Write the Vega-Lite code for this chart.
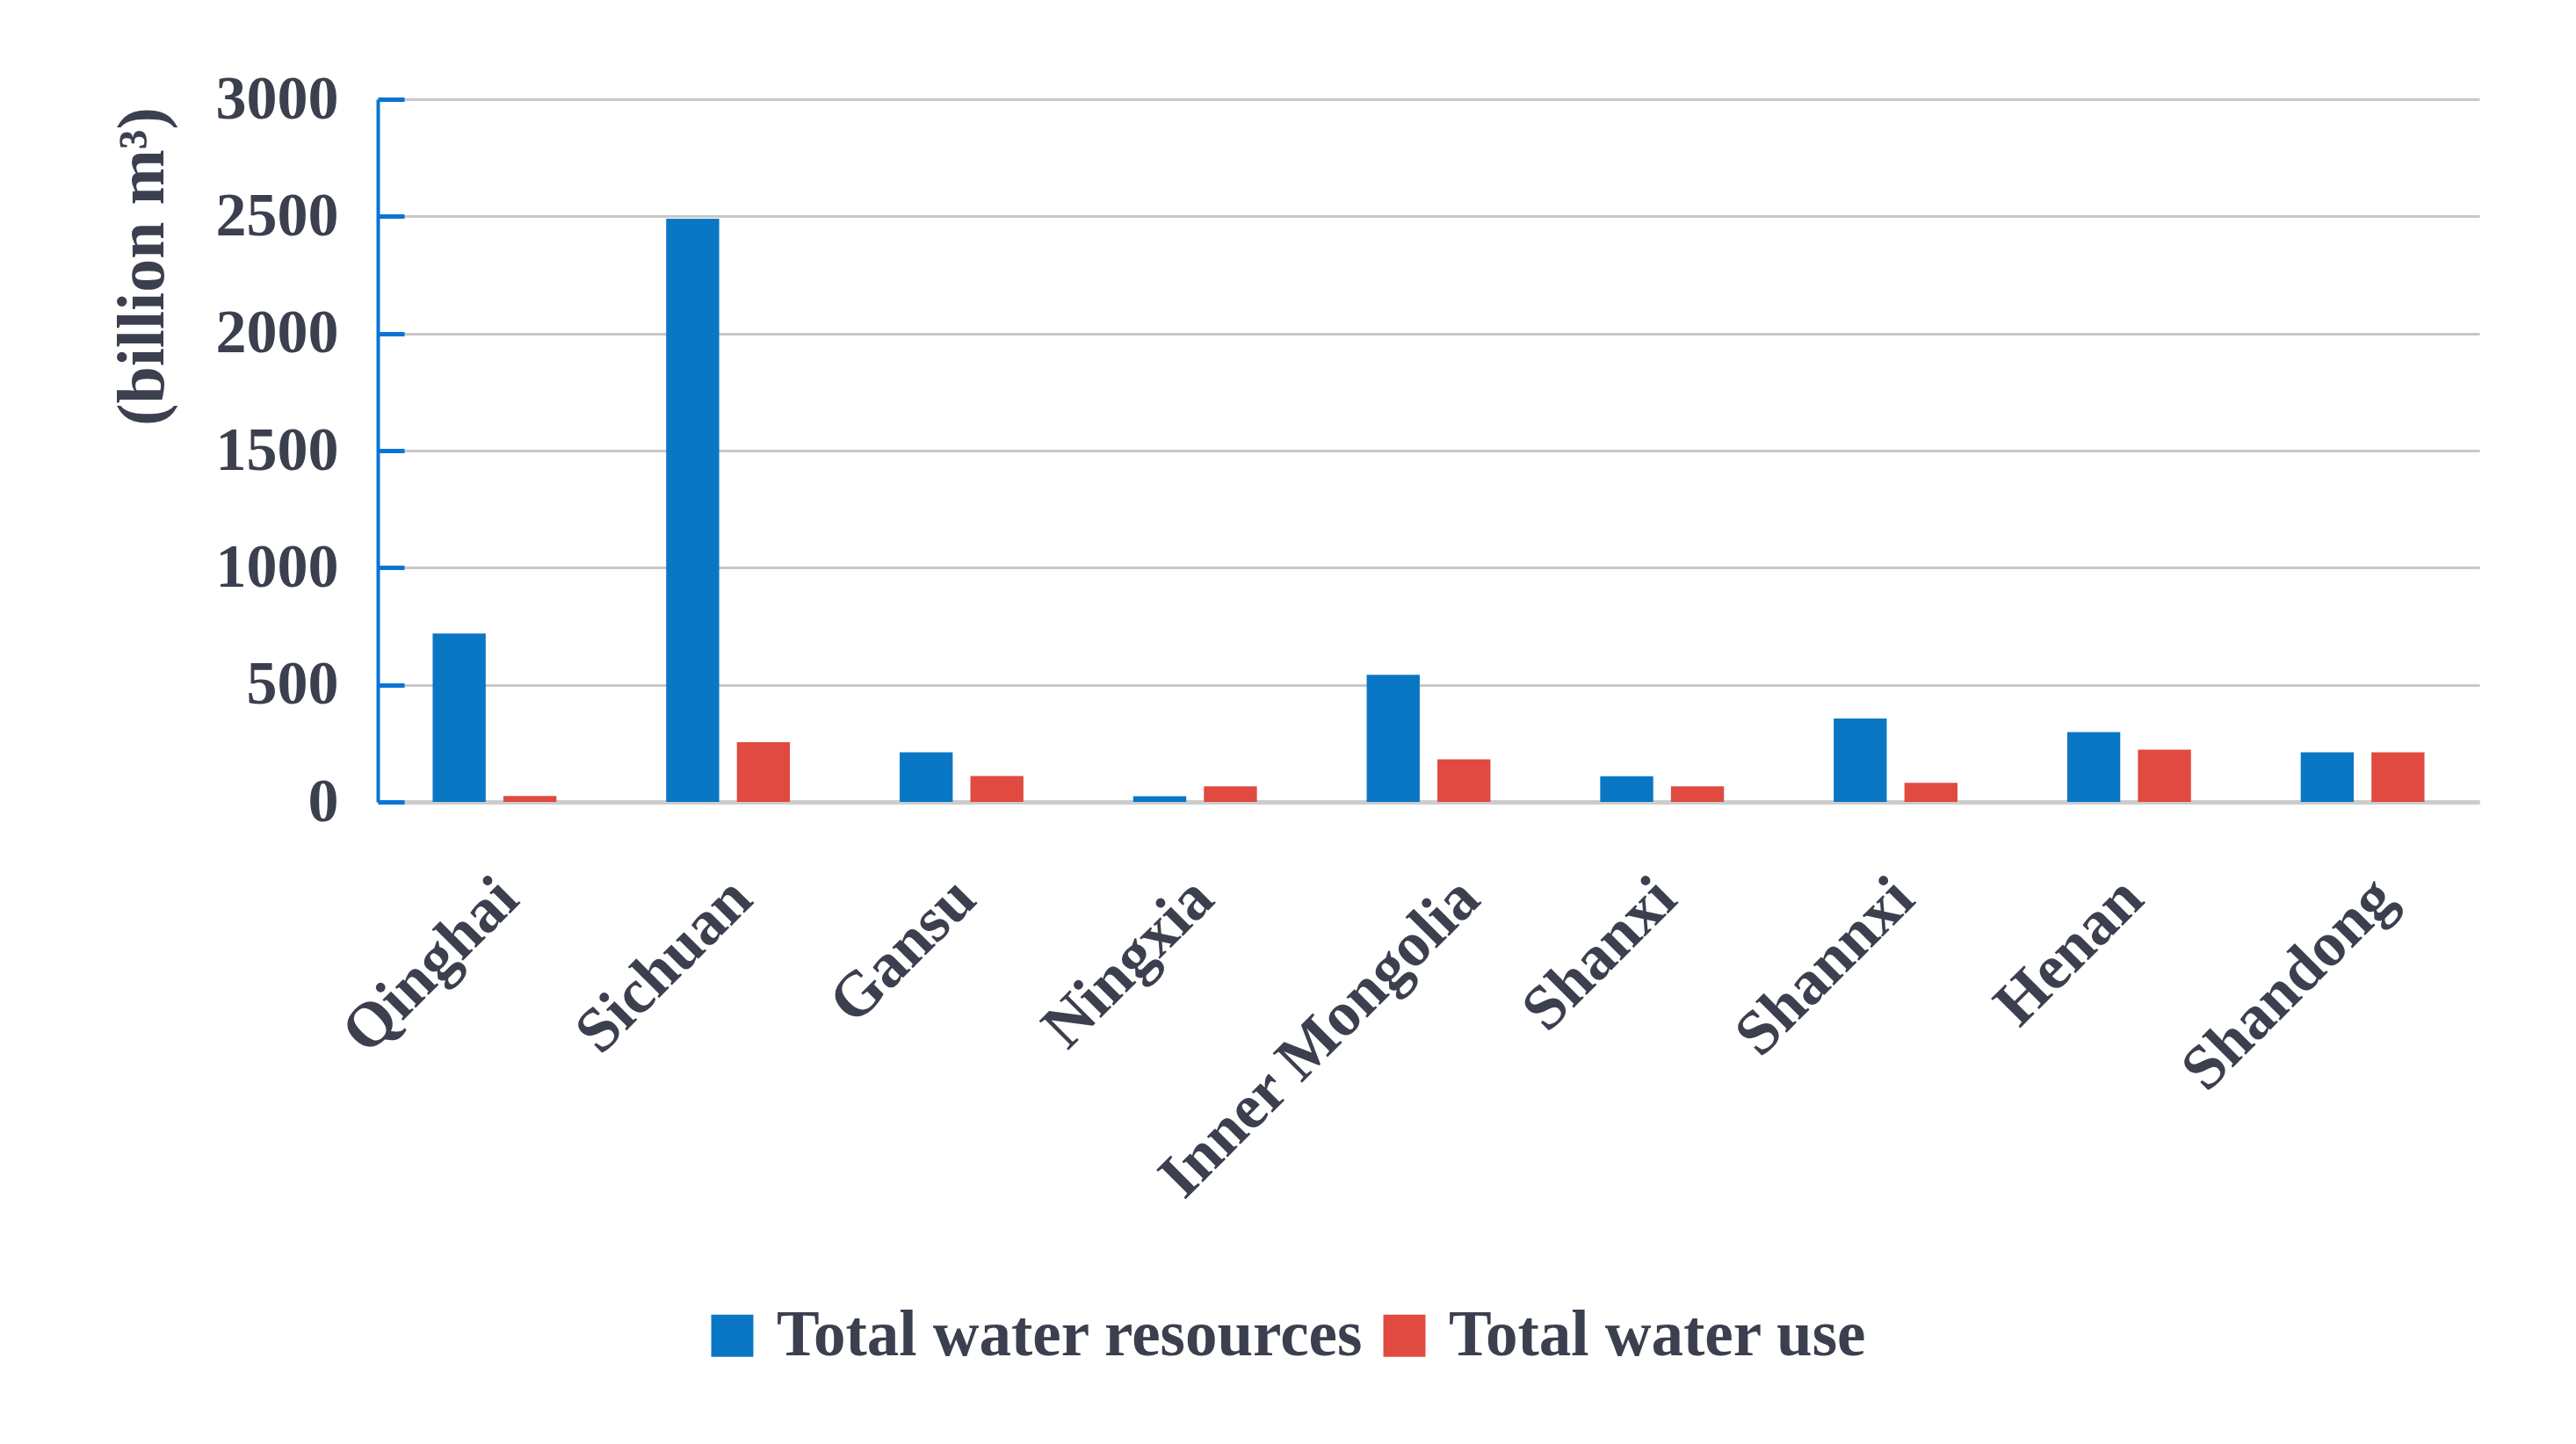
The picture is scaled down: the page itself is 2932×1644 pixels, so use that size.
{
  "$schema": "https://vega.github.io/schema/vega-lite/v6.json",
  "autosize": {"type": "none"},
  "width": 2392,
  "height": 800,
  "padding": {"left": 430, "top": 113, "right": 110, "bottom": 731},
  "background": "white",
  "data": {
    "values": [
      {"region": "Qinghai", "series": "Total water resources", "value": 719},
      {"region": "Qinghai", "series": "Total water use", "value": 25},
      {"region": "Sichuan", "series": "Total water resources", "value": 2490},
      {"region": "Sichuan", "series": "Total water use", "value": 255},
      {"region": "Gansu", "series": "Total water resources", "value": 212},
      {"region": "Gansu", "series": "Total water use", "value": 111},
      {"region": "Ningxia", "series": "Total water resources", "value": 24},
      {"region": "Ningxia", "series": "Total water use", "value": 67},
      {"region": "Inner Mongolia", "series": "Total water resources", "value": 543},
      {"region": "Inner Mongolia", "series": "Total water use", "value": 182},
      {"region": "Shanxi", "series": "Total water resources", "value": 110},
      {"region": "Shanxi", "series": "Total water use", "value": 67},
      {"region": "Shannxi", "series": "Total water resources", "value": 356},
      {"region": "Shannxi", "series": "Total water use", "value": 82},
      {"region": "Henan", "series": "Total water resources", "value": 298},
      {"region": "Henan", "series": "Total water use", "value": 223},
      {"region": "Shandong", "series": "Total water resources", "value": 212},
      {"region": "Shandong", "series": "Total water use", "value": 212}
    ]
  },
  "mark": {"type": "bar"},
  "encoding": {
    "x": {
      "field": "region",
      "type": "nominal",
      "sort": null,
      "scale": {"paddingInner": 0.47, "paddingOuter": 0.235},
      "axis": {
        "title": null,
        "labelAngle": -45,
        "labelAlign": "right",
        "labelBaseline": "middle",
        "labelPadding": 98,
        "labelOffset": {
          "condition": [
            {"test": "datum.label === 'Inner Mongolia'", "value": 46},
            {"test": "datum.label === 'Shandong'", "value": 25},
            {"test": "datum.label === 'Qinghai' || datum.label === 'Sichuan'", "value": 15},
            {"test": "datum.label === 'Ningxia' || datum.label === 'Shannxi'", "value": 9}
          ],
          "value": 4
        },
        "labelLimit": 2000,
        "labelFont": "Liberation Serif",
        "labelFontWeight": "bold",
        "labelFontSize": 72,
        "labelColor": "#3c3f4e",
        "ticks": false,
        "domainColor": "#cccccc",
        "domainWidth": 5,
        "grid": false
      }
    },
    "xOffset": {
      "field": "series",
      "type": "nominal",
      "scale": {"paddingInner": 0.25, "paddingOuter": 0}
    },
    "y": {
      "field": "value",
      "type": "quantitative",
      "scale": {"domain": [0, 3000], "nice": false},
      "axis": {
        "title": "(billion m³)",
        "titleFont": "Liberation Serif",
        "titleFontWeight": "bold",
        "titleFontSize": 76,
        "titleColor": "#3c3f4e",
        "titleAngle": -90,
        "titleX": -268,
        "titleY": 190,
        "titleAlign": "center",
        "titleBaseline": "middle",
        "values": [0, 500, 1000, 1500, 2000, 2500, 3000],
        "format": "d",
        "labelFont": "Liberation Serif",
        "labelFontWeight": "bold",
        "labelFontSize": 70,
        "labelColor": "#3c3f4e",
        "labelPadding": 75,
        "tickSize": -30,
        "tickColor": "#0a74d4",
        "tickWidth": 5,
        "domainColor": "#0a74d4",
        "domainWidth": 4,
        "gridColor": "#c8c8c8",
        "gridWidth": 3
      }
    },
    "color": {
      "field": "series",
      "type": "nominal",
      "scale": {"domain": ["Total water resources", "Total water use"], "range": ["#0a77c5", "#e04a40"]},
      "legend": {
        "title": null,
        "orient": "none",
        "direction": "horizontal",
        "legendX": 367,
        "legendY": 1371,
        "symbolType": "square",
        "symbolSize": 2300,
        "symbolOpacity": 1,
        "symbolStrokeWidth": 0,
        "labelFont": "Liberation Serif",
        "labelFontWeight": "bold",
        "labelFontSize": 73,
        "labelColor": "#3c3f4e",
        "labelOffset": 14,
        "columnPadding": 10,
        "labelLimit": 2000
      }
    }
  },
  "config": {"view": {"stroke": null}}
}
